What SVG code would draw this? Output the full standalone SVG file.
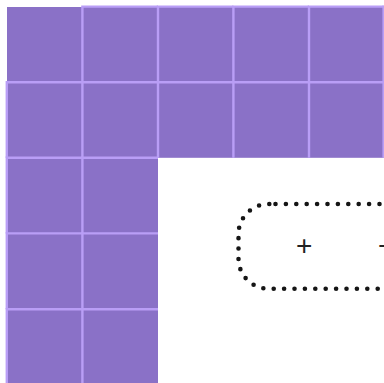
<svg xmlns="http://www.w3.org/2000/svg" width="384" height="383" viewBox="0 0 384 383">
  <style>
    .fill { fill: #8a71c7; }
    .edge { fill: none; stroke: #b99ef6; stroke-width: 2.4; stroke-linejoin: miter; }
    .dots { fill: none; stroke: #151515; stroke-width: 4.6; stroke-linecap: round; stroke-dasharray: 0 10.4; }
    .sign { font-family: "Liberation Sans", Arial, sans-serif; font-size: 28px; fill: #222; text-anchor: middle; }
  </style>
  <rect x="0" y="0" width="384" height="383" fill="#ffffff"/>
  <g id="grid">
    <g id="cell-0-0"><rect class="fill" x="7" y="7" width="75.4" height="75.2"/></g>
    <g id="cell-0-1"><rect class="fill" x="82.4" y="6.6" width="75.6" height="75.6"/><path class="edge" d="M82.4 82.2 V6.6 H158"/></g>
    <g id="cell-0-2"><rect class="fill" x="158" y="6.6" width="75.4" height="75.6"/><path class="edge" d="M158 82.2 V6.6 H233.4"/></g>
    <g id="cell-0-3"><rect class="fill" x="233.4" y="6.6" width="75.6" height="75.6"/><path class="edge" d="M233.4 82.2 V6.6 H309"/></g>
    <g id="cell-0-4"><rect class="fill" x="309" y="6.6" width="74.6" height="75.6"/><path class="edge" d="M309 82.2 V6.6 H383.6"/></g>
    <g id="cell-0-5"><rect class="fill" x="383.6" y="6.6" width="20" height="75.6"/><path class="edge" d="M383.6 82.2 V6.6 H404"/></g>

    <g id="cell-1-0"><rect class="fill" x="6.8" y="82.2" width="75.6" height="75.6"/><path class="edge" d="M6.8 157.8 V82.2 H82.4"/></g>
    <g id="cell-1-1"><rect class="fill" x="82.4" y="82.2" width="75.6" height="75.6"/><path class="edge" d="M82.4 157.8 V82.2 H158"/></g>
    <g id="cell-1-2"><rect class="fill" x="158" y="82.2" width="75.4" height="75.6"/><path class="edge" d="M158 157.8 V82.2 H233.4"/></g>
    <g id="cell-1-3"><rect class="fill" x="233.4" y="82.2" width="75.6" height="75.6"/><path class="edge" d="M233.4 157.8 V82.2 H309"/></g>
    <g id="cell-1-4"><rect class="fill" x="309" y="82.2" width="74.6" height="75.6"/><path class="edge" d="M309 157.8 V82.2 H383.6"/></g>
    <g id="cell-1-5"><rect class="fill" x="383.6" y="82.2" width="20" height="75.6"/><path class="edge" d="M383.6 157.8 V82.2 H404"/></g>

    <g id="cell-2-0"><rect class="fill" x="6.8" y="157.8" width="75.6" height="75.6"/><path class="edge" d="M6.8 233.4 V157.8 H82.4"/></g>
    <g id="cell-2-1"><rect class="fill" x="82.4" y="157.8" width="75.6" height="75.6"/><path class="edge" d="M82.4 233.4 V157.8 H158"/></g>

    <g id="cell-3-0"><rect class="fill" x="6.8" y="233.4" width="75.6" height="75.8"/><path class="edge" d="M6.8 309.2 V233.4 H82.4"/></g>
    <g id="cell-3-1"><rect class="fill" x="82.4" y="233.4" width="75.6" height="75.8"/><path class="edge" d="M82.4 309.2 V233.4 H158"/></g>

    <g id="cell-4-0"><rect class="fill" x="6.8" y="309.2" width="75.6" height="80"/><path class="edge" d="M6.8 390 V309.2 H82.4"/></g>
    <g id="cell-4-1"><rect class="fill" x="82.4" y="309.2" width="75.6" height="80"/><path class="edge" d="M82.4 390 V309.2 H158"/></g>
  </g>
  <g id="capsule">
    <path class="dots" d="M269.3 204 H268.5 A30 30 0 0 0 238.5 234 V258.7 A30 30 0 0 0 268.5 288.7 H470 A30 30 0 0 0 500 258.7 V234 A30 30 0 0 0 470 204 Z"/>
    <text class="sign" x="304.2" y="254.5">+</text>
    <text class="sign" x="386.2" y="254.5">−</text>
  </g>
</svg>
